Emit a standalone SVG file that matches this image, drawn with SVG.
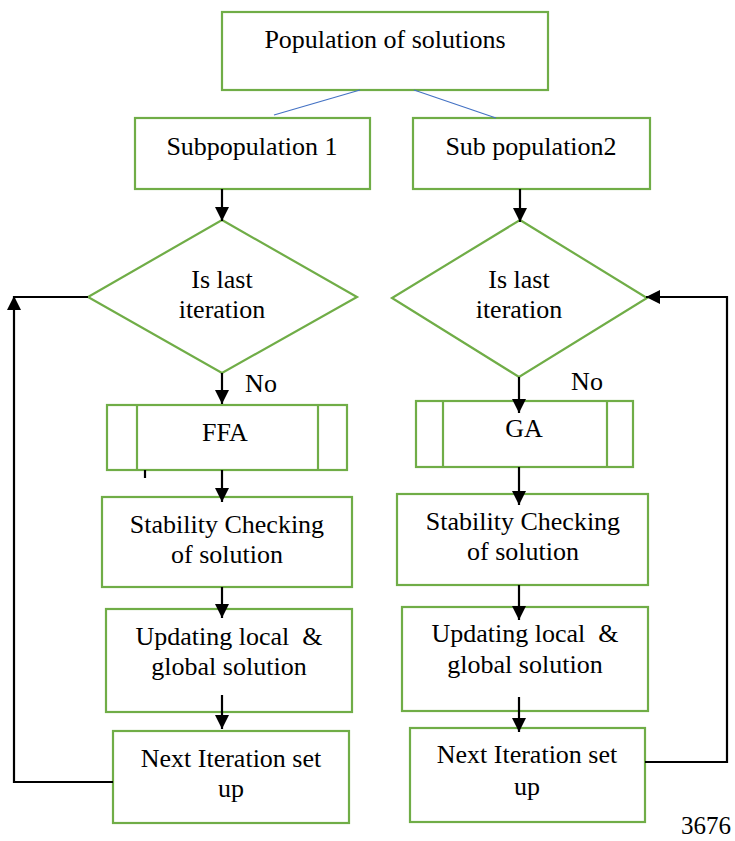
<svg xmlns="http://www.w3.org/2000/svg" width="735" height="841" viewBox="0 0 735 841">
<defs>
<marker id="ah" markerWidth="14" markerHeight="14" viewBox="0 0 14 14" refX="14" refY="7" orient="auto" markerUnits="userSpaceOnUse">
<path d="M0,0 L14,7 L0,14 Z" fill="#000"/>
</marker>
</defs>
<style>
.box{fill:#fff;stroke:#70AD47;stroke-width:2.2}
.t{font-size:26px;fill:#000;text-anchor:middle}
.c{fill:none;stroke:#000;stroke-width:2.2}
.b{fill:none;stroke:#4472C4;stroke-width:1.2}
</style>
<rect width="735" height="841" fill="#fff"/>
<g font-family="'Liberation Serif', 'Times New Roman', 'DejaVu Serif', serif">
<g id="population">
<rect class="box" x="222" y="12" width="326" height="78"/>
<text class="t" x="385" y="48">Population of solutions</text>
</g>
<g id="subpop1">
<rect class="box" x="135" y="118" width="235" height="71"/>
<text class="t" x="252" y="155">Subpopulation 1</text>
</g>
<g id="subpop2">
<rect class="box" x="413" y="118" width="237" height="71"/>
<text class="t" x="531" y="155">Sub population2</text>
</g>
<g id="decision1">
<polygon class="box" points="222,220 357,297 222,373 88,297"/>
<text class="t" x="222" y="288">Is last</text>
<text class="t" x="222" y="318">iteration</text>
</g>
<g id="decision2">
<polygon class="box" points="520,220 647,298 519,377 392,298"/>
<text class="t" x="519" y="288">Is last</text>
<text class="t" x="519" y="318">iteration</text>
</g>
<text class="t" x="261" y="392">No</text>
<text class="t" x="587" y="390">No</text>
<g id="ffa">
<rect class="box" x="107" y="405" width="240" height="65"/>
<line class="box" x1="137" y1="405" x2="137" y2="470"/>
<line class="box" x1="318" y1="405" x2="318" y2="470"/>
<text class="t" x="225" y="441">FFA</text>
</g>
<g id="ga">
<rect class="box" x="416" y="401" width="217" height="66"/>
<line class="box" x1="443" y1="401" x2="443" y2="467"/>
<line class="box" x1="607" y1="401" x2="607" y2="467"/>
<text class="t" x="524" y="437">GA</text>
</g>
<g id="stability1">
<rect class="box" x="102" y="497" width="250" height="90"/>
<text class="t" x="227" y="533">Stability Checking</text>
<text class="t" x="227" y="563">of solution</text>
</g>
<g id="stability2">
<rect class="box" x="397" y="494" width="251" height="91"/>
<text class="t" x="523" y="530">Stability Checking</text>
<text class="t" x="523" y="560">of solution</text>
</g>
<g id="update1">
<rect class="box" x="106" y="609" width="246" height="103"/>
<text class="t" x="229" y="645" xml:space="preserve">Updating local  &amp;</text>
<text class="t" x="229" y="675">global solution</text>
</g>
<g id="update2">
<rect class="box" x="402" y="607" width="246" height="104"/>
<text class="t" x="525" y="642" xml:space="preserve">Updating local  &amp;</text>
<text class="t" x="525" y="673">global solution</text>
</g>
<g id="next1">
<rect class="box" x="113" y="731" width="236" height="92"/>
<text class="t" x="231" y="767">Next Iteration set</text>
<text class="t" x="231" y="797">up</text>
</g>
<g id="next2">
<rect class="box" x="410" y="728" width="235" height="94"/>
<text class="t" x="527" y="763">Next Iteration set</text>
<text class="t" x="527" y="795">up</text>
</g>
<text x="681" y="834" font-size="25">3676</text>
</g>
<g id="connectors">
<line class="b" x1="360" y1="90" x2="274" y2="115"/>
<line class="b" x1="414" y1="90" x2="496" y2="118"/>
<line class="c" x1="222" y1="189" x2="222" y2="221" marker-end="url(#ah)"/>
<line class="c" x1="520" y1="189" x2="520" y2="222" marker-end="url(#ah)"/>
<line class="c" x1="222" y1="373" x2="222" y2="404" marker-end="url(#ah)"/>
<line class="c" x1="519" y1="377" x2="519" y2="413" marker-end="url(#ah)"/>
<line class="c" x1="222" y1="470" x2="222" y2="502" marker-end="url(#ah)"/>
<line class="c" x1="145" y1="470" x2="145" y2="478"/>
<line class="c" x1="519" y1="467" x2="519" y2="505" marker-end="url(#ah)"/>
<line class="c" x1="222" y1="587" x2="222" y2="618" marker-end="url(#ah)"/>
<line class="c" x1="519" y1="585" x2="519" y2="620" marker-end="url(#ah)"/>
<line class="c" x1="222" y1="695" x2="222" y2="729" marker-end="url(#ah)"/>
<line class="c" x1="519" y1="697" x2="519" y2="732" marker-end="url(#ah)"/>
<path class="c" d="M113,782 H14 V296" marker-end="url(#ah)"/>
<line class="c" x1="13" y1="297" x2="88" y2="297"/>
<path class="c" d="M645,762 H727 V297 H646" marker-end="url(#ah)"/>
</g>
</svg>
